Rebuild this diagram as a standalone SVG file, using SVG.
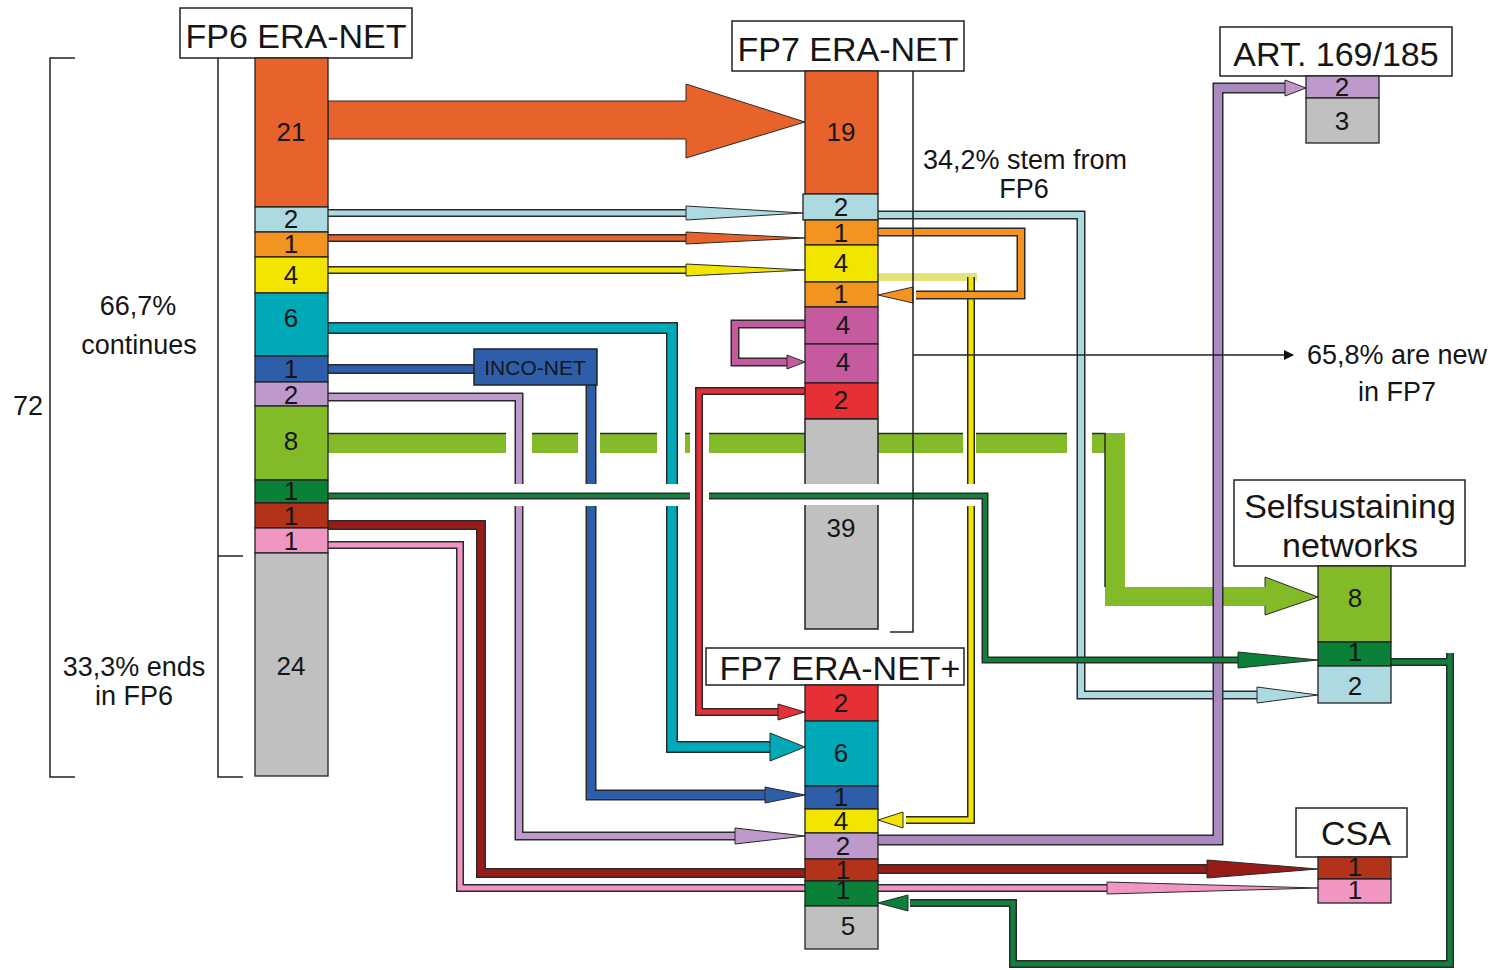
<svg xmlns="http://www.w3.org/2000/svg" width="1495" height="970" viewBox="0 0 1495 970">
<style>
.bg{fill:#fff}
.seg{stroke:#222;stroke-width:1.3}
.lbl{fill:#fff;stroke:#222;stroke-width:1.5}
.t{font-family:"Liberation Sans",Arial,sans-serif;fill:#161616}
.n{font-size:26px;text-anchor:middle}
.big{font-size:34px;text-anchor:middle}
.ann{font-size:27px;text-anchor:middle}
.case{fill:none;stroke:#2a2a2a;stroke-linejoin:miter;stroke-linecap:butt}
.ln{fill:none;stroke-linejoin:miter;stroke-linecap:butt}
.head{stroke:#2a2a2a;stroke-width:1}
.brk{fill:none;stroke:#222;stroke-width:1.5}
.c-or{fill:#E8632B}.c-lb{fill:#ADDAE0}.c-o2{fill:#F39320}.c-ye{fill:#F2E500}.c-te{fill:#00A9B7}
.c-bl{fill:#2E5EAA}.c-la{fill:#BE99CB}.c-gr{fill:#82BA28}.c-dg{fill:#0A8038}.c-br{fill:#B2331A}
.c-pk{fill:#F196C2}.c-gy{fill:#C0C0C0}.c-mg{fill:#C65A9E}.c-rd{fill:#E63036}
</style>
<defs>
<marker id="blk" markerWidth="10" markerHeight="10" refX="9" refY="5" orient="auto" markerUnits="userSpaceOnUse">
<path d="M0,0 L10,5 L0,10 z" fill="#111"/>
</marker>
</defs>
<rect class="bg" x="0" y="0" width="1495" height="970"/>

<g id="connectors">
<!-- green band FP6 8 -> Selfsustaining 8 -->
<g fill="#82BA28">
<rect x="328" y="433" width="178" height="20"/>
<rect x="532" y="433" width="46" height="20"/>
<rect x="600" y="433" width="57" height="20"/>
<rect x="685" y="433" width="5" height="20"/>
<rect x="709" y="433" width="96" height="20"/>
<rect x="878" y="433" width="85" height="20"/>
<rect x="976" y="433" width="91" height="20"/>
<polygon points="1092,433 1125,433 1125,587 1265,587 1265,577 1318,597 1265,615 1265,606 1105,606 1105,453 1092,453"/>
</g>
<g stroke="#2a2a2a" stroke-width="1.5" fill="none">
<path d="M328,433.5 H506 M532,433.5 H578 M600,433.5 H657 M685,433.5 H690 M709,433.5 H805 M878,433.5 H963 M976,433.5 H1067 M1092,433.5 H1105 V587"/>
<path d="M1265,587 V577 L1318,597 L1265,615 V606" stroke-width="1"/>
</g>

<!-- big orange FP6 21 -> FP7 19 -->
<polygon class="c-or head" points="328,101 686,101 686,84 805,122 686,158 686,139 328,139"/>

<!-- light blue FP6 -> FP7 -->
<path class="case" stroke-width="8" d="M328,213 H688"/>
<path class="ln" stroke="#ADDAE0" stroke-width="5" d="M328,213 H688"/>
<polygon class="c-lb head" points="686,206 803,213 686,220"/>
<!-- orange FP6 1 -> FP7 1 -->
<path class="case" stroke-width="8" d="M328,238 H688"/>
<path class="ln" stroke="#E8632B" stroke-width="5" d="M328,238 H688"/>
<polygon class="c-or head" points="686,232 805,238 686,244"/>
<!-- yellow FP6 4 -> FP7 4 -->
<path class="case" stroke-width="8" d="M328,270 H688"/>
<path class="ln" stroke="#F2E500" stroke-width="5" d="M328,270 H688"/>
<polygon class="c-ye head" points="686,264 805,270 686,276"/>

<!-- teal FP6 6 -> ERA-NET+ 6 -->
<path class="case" stroke-width="12" d="M328,328 H672 V747 H775"/>
<path class="ln" stroke="#00A9B7" stroke-width="9" d="M328,328 H672 V747 H775"/>
<polygon class="c-te head" points="770,733 805,747 770,761"/>

<!-- blue FP6 1 -> INCO-NET -> ERA-NET+ 1 -->
<path class="case" stroke-width="10" d="M328,369 H474"/>
<path class="ln" stroke="#2E5EAA" stroke-width="7" d="M328,369 H474"/>
<path class="case" stroke-width="11" d="M591,385 V795 H768"/>
<path class="ln" stroke="#2E5EAA" stroke-width="8" d="M591,385 V795 H768"/>
<polygon class="c-bl head" points="765,787 805,795 765,803"/>

<!-- lavender FP6 2 -> ERA-NET+ 2 -->
<path class="case" stroke-width="9" d="M328,397 H519 V836 H740"/>
<path class="ln" stroke="#BE99CB" stroke-width="6" d="M328,397 H519 V836 H740"/>
<polygon class="c-la head" points="735,828 805,836 735,844"/>

<!-- yellow FP7 4 -> ERA-NET+ 4 -->
<path class="ln" stroke="#E3E37C" stroke-width="8" d="M878,277 H977"/>
<path class="case" stroke-width="8" d="M971,277 V820 H906"/>
<path class="ln" stroke="#F2E500" stroke-width="5" d="M971,277 V820 H906"/>
<polygon class="c-ye head" points="903,812 878,820 903,828"/>

<!-- light blue FP7 2 -> Selfsustaining 2 -->
<path class="case" stroke-width="9" d="M878,215 H1081 V695 H1260"/>
<path class="ln" stroke="#ADDAE0" stroke-width="6" d="M878,215 H1081 V695 H1260"/>
<polygon class="c-lb head" points="1257,687 1318,695 1257,703"/>

<!-- orange loop FP7 1 -> FP7 1 -->
<path class="case" stroke-width="9" d="M878,232 H1021 V295 H916"/>
<path class="ln" stroke="#F39320" stroke-width="6" d="M878,232 H1021 V295 H916"/>
<polygon class="c-o2 head" points="913,287 878,295 913,303"/>

<!-- magenta loop FP7 4 -> FP7 4 -->
<path class="case" stroke-width="9" d="M805,324 H735 V362 H790"/>
<path class="ln" stroke="#C65A9E" stroke-width="6" d="M805,324 H735 V362 H790"/>
<polygon class="c-mg head" points="787,355 805,362 787,369"/>

<!-- purple ERA-NET+ 2 -> ART 2 -->
<path class="case" stroke-width="11" d="M878,840 H1218 V88 H1288"/>
<path class="ln" stroke="#A98BC2" stroke-width="8" d="M878,840 H1218 V88 H1288"/>
<polygon class="c-la head" points="1285,80 1306,88 1285,96"/>

<!-- pink FP6 1 -> ERA-NET+ -> CSA 1 -->
<path class="case" stroke-width="8" d="M328,545 H460 V888 H805 M878,888 H1110"/>
<path class="ln" stroke="#F196C2" stroke-width="5" d="M328,545 H460 V888 H805 M878,888 H1110"/>
<polygon class="c-pk head" points="1107,882 1318,888 1107,894"/>

<!-- brick FP6 1 -> ERA-NET+ -> CSA 1 -->
<path class="case" stroke-width="10" d="M328,525 H481 V873 H805 M878,869 H1210"/>
<path class="ln" stroke="#971C17" stroke-width="7" d="M328,525 H481 V873 H805 M878,869 H1210"/>
<polygon points="1207,860 1318,869 1207,878" fill="#971C17" class="head"/>

<!-- white halo where dark green crosses -->
<rect x="505" y="484" width="185" height="22" fill="#fff"/>
<rect x="709" y="484" width="276" height="22" fill="#fff"/>

<!-- red FP7 2 -> ERA-NET+ 2 -->
<path class="case" stroke-width="8" d="M805,391 H699 V712 H782"/>
<path class="ln" stroke="#E63036" stroke-width="5" d="M805,391 H699 V712 H782"/>
<polygon class="c-rd head" points="778,704 805,712 778,720"/>

<!-- dark green FP6 1 -> Selfsustaining 1 -->
<path class="case" stroke-width="7" d="M328,496 H690 M709,496 H985 V660 H1242"/>
<path class="ln" stroke="#11803D" stroke-width="4" d="M328,496 H690 M709,496 H985 V660 H1242"/>
<polygon class="c-dg head" points="1238,652 1318,660 1238,668"/>

<!-- dark green Selfsustaining 1 -> ERA-NET+ 1 -->
<path class="case" stroke-width="8" d="M1391,662 H1450 V964 H1013 V903 H910 M1450,653 V662"/>
<path class="ln" stroke="#11803D" stroke-width="5" d="M1391,662 H1450 V964 H1013 V903 H910 M1450,653 V662"/>
<polygon class="c-dg head" points="908,895 878,903 908,911"/>
</g>

<g id="fp6">
<rect class="lbl" x="180" y="8" width="232" height="50"/>
<text class="t big" x="296" y="48">FP6 ERA-NET</text>
<rect class="seg c-or" x="255" y="58" width="73" height="149"/>
<rect class="seg c-lb" x="255" y="207" width="73" height="25"/>
<rect class="seg c-o2" x="255" y="232" width="73" height="25"/>
<rect class="seg c-ye" x="255" y="257" width="73" height="36"/>
<rect class="seg c-te" x="255" y="293" width="73" height="63"/>
<rect class="seg c-bl" x="255" y="356" width="73" height="26"/>
<rect class="seg c-la" x="255" y="382" width="73" height="24"/>
<rect class="seg c-gr" x="255" y="406" width="73" height="74"/>
<rect class="seg c-dg" x="255" y="480" width="73" height="23"/>
<rect class="seg c-br" x="255" y="503" width="73" height="25"/>
<rect class="seg c-pk" x="255" y="528" width="73" height="25"/>
<rect class="seg c-gy" x="255" y="553" width="73" height="223"/>
<g class="t n">
<text x="291" y="141">21</text>
<text x="291" y="228">2</text>
<text x="291" y="253">1</text>
<text x="291" y="284">4</text>
<text x="291" y="327">6</text>
<text x="291" y="378">1</text>
<text x="291" y="404">2</text>
<text x="291" y="450">8</text>
<text x="291" y="500">1</text>
<text x="291" y="525">1</text>
<text x="291" y="550">1</text>
<text x="291" y="675">24</text>
</g>
</g>

<g id="fp7">
<rect class="lbl" x="732" y="21" width="232" height="50"/>
<text class="t big" x="848" y="61">FP7 ERA-NET</text>
<rect class="seg c-or" x="805" y="71" width="73" height="123"/>
<rect class="seg c-lb" x="803" y="194" width="75" height="26"/>
<rect class="seg c-o2" x="805" y="220" width="73" height="25"/>
<rect class="seg c-ye" x="805" y="245" width="73" height="37"/>
<rect class="seg c-o2" x="805" y="282" width="73" height="25"/>
<rect class="seg c-mg" x="805" y="307" width="73" height="37"/>
<rect class="seg c-mg" x="805" y="344" width="73" height="39"/>
<rect class="seg c-rd" x="805" y="383" width="73" height="36"/>
<rect class="c-gy" x="805" y="419" width="73" height="65"/>
<rect class="c-gy" x="805" y="505" width="73" height="124"/>
<path class="brk" stroke-width="1.3" d="M805,484 V419 H878 V484 M805,505 V629 H878 V505"/>
<g class="t n">
<text x="841" y="141">19</text>
<text x="841" y="216">2</text>
<text x="841" y="242">1</text>
<text x="841" y="272">4</text>
<text x="841" y="303">1</text>
<text x="843" y="334">4</text>
<text x="843" y="371">4</text>
<text x="841" y="409">2</text>
<text x="841" y="537">39</text>
</g>
</g>

<g id="inco-net">
<rect x="474" y="349" width="123" height="36" fill="#2E5EAA" stroke="#222" stroke-width="1.5"/>
<text class="t" x="535" y="375" font-size="21" text-anchor="middle" fill="#1a2238">INCO-NET</text>
</g>

<g id="art169">
<rect class="lbl" x="1220" y="27" width="232" height="49"/>
<text class="t big" x="1336" y="66">ART. 169/185</text>
<rect class="seg c-la" x="1306" y="76" width="73" height="22"/>
<rect class="seg c-gy" x="1306" y="98" width="73" height="45"/>
<g class="t n">
<text x="1342" y="96">2</text>
<text x="1342" y="130">3</text>
</g>
</g>

<g id="selfsustaining">
<rect class="lbl" x="1234" y="480" width="231" height="86"/>
<text class="t big" x="1350" y="518">Selfsustaining</text>
<text class="t big" x="1350" y="557">networks</text>
<rect class="seg c-gr" x="1318" y="566" width="73" height="76"/>
<rect class="seg c-dg" x="1318" y="642" width="73" height="24"/>
<rect class="seg c-lb" x="1318" y="666" width="73" height="37"/>
<g class="t n">
<text x="1355" y="607">8</text>
<text x="1355" y="661">1</text>
<text x="1355" y="695">2</text>
</g>
</g>

<g id="fp7-eranet-plus">
<rect class="lbl" x="706" y="648" width="258" height="37"/>
<text class="t big" x="840" y="680">FP7 ERA-NET+</text>
<rect class="seg c-rd" x="805" y="685" width="73" height="36"/>
<rect class="seg c-te" x="805" y="721" width="73" height="65"/>
<rect class="seg c-bl" x="805" y="786" width="73" height="23"/>
<rect class="seg c-ye" x="805" y="809" width="73" height="24"/>
<rect class="seg c-la" x="805" y="833" width="73" height="26"/>
<rect class="seg c-br" x="805" y="859" width="73" height="22"/>
<rect class="seg c-dg" x="805" y="881" width="73" height="25"/>
<rect class="seg c-gy" x="805" y="906" width="73" height="43"/>
<g class="t n">
<text x="841" y="712">2</text>
<text x="841" y="762">6</text>
<text x="841" y="806">1</text>
<text x="841" y="830">4</text>
<text x="843" y="855">2</text>
<text x="843" y="879">1</text>
<text x="843" y="899">1</text>
<text x="848" y="935">5</text>
</g>
</g>

<g id="csa">
<rect class="lbl" x="1296" y="808" width="111" height="49"/>
<text class="t big" x="1356" y="845">CSA</text>
<rect class="seg c-br" x="1318" y="857" width="73" height="22"/>
<rect class="seg c-pk" x="1318" y="879" width="73" height="24"/>
<g class="t n">
<text x="1355" y="876">1</text>
<text x="1355" y="899">1</text>
</g>
</g>

<g id="annotations">
<path class="brk" d="M75,58 H50 V777 H75"/>
<path class="brk" d="M218,58 V777 H243 M218,556 H243"/>
<path class="brk" d="M913,71 V632 H890"/>
<path class="brk" d="M913,355 H1293" stroke-width="1.3" marker-end="url(#blk)"/>
<g class="t ann">
<text x="28" y="415">72</text>
<text x="138" y="315">66,7%</text>
<text x="139" y="354">continues</text>
<text x="134" y="676">33,3% ends</text>
<text x="134" y="705">in FP6</text>
<text x="1025" y="169">34,2% stem from</text>
<text x="1024" y="198">FP6</text>
<text x="1397" y="364">65,8% are new</text>
<text x="1397" y="401">in FP7</text>
</g>
</g>
</svg>
